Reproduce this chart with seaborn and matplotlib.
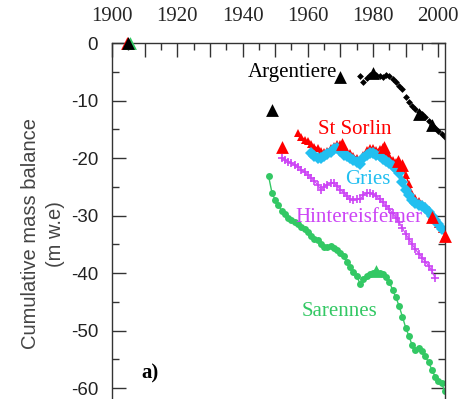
import matplotlib
matplotlib.use("Agg")
import matplotlib.pyplot as plt
import seaborn as sns
import pandas as pd

# Argentiere
arg_years = list(range(1976, 2003))
arg_vals = [-5.8, -6.7, -6.0, -5.6, -5.2, -5.6, -5.8, -5.9, -5.6, -5.7, -6.3, -6.8, -7.4,
            -8.0, -9.4, -10.2, -10.9, -11.4, -12.0, -12.3, -12.8, -13.6, -14.3, -14.8,
            -15.3, -15.8, -16.4]
arg_big_years = [1905, 1949, 1970, 1980, 1994, 1998]
arg_big_vals = [0, -11.6, -5.9, -5.2, -12.4, -14.2]

# St Sorlin
sor_years = list(range(1957, 2003))
sor_vals = [-15.7, -16.3, -16.8, -17.1, -17.6, -18.0, -18.3, -18.8, -19.0, -18.7, -18.2,
            -17.9, -17.6, -17.6, -18.3, -18.9, -19.2, -19.6, -19.9, -20.4, -19.4, -18.6,
            -18.3, -18.2, -18.6, -18.4, -18.0, -18.9, -19.6, -20.3, -20.6, -21.0, -21.4,
            -23.0, -24.5, -26.2, -27.0, -27.5, -28.0, -28.4, -29.0, -30.0, -30.8, -31.5,
            -32.3, -33.5]
sor_big_years = [1904.6, 1952, 1970.5, 1983.5, 1987.5, 1989, 1998, 2002]
sor_big_vals = [0, -18.1, -17.6, -18.0, -20.5, -21.2, -30.2, -33.5]

# Gries
gri_years = list(range(1961, 2002))
gri_vals = [-19.1, -19.6, -19.9, -19.9, -19.6, -19.3, -18.9, -18.5, -18.2, -18.7, -19.4,
            -19.7, -20.0, -20.3, -20.6, -21.1, -20.0, -19.4, -19.2, -19.1, -19.4, -19.7,
            -20.1, -20.5, -20.8, -21.3, -21.9, -22.6, -24.2, -25.6, -26.4, -27.3, -27.8,
            -28.1, -28.3, -28.6, -29.3, -30.0, -30.7, -31.5, -32.4]

# Hintereisferner
hin_years = list(range(1952, 2000))
hin_vals = [-19.9, -20.3, -20.6, -20.9, -21.2, -21.5, -22.0, -22.5, -22.9, -23.4, -24.0,
            -24.6, -25.5, -25.0, -24.6, -24.4, -24.3, -24.9, -25.5, -26.0, -26.6, -27.2,
            -27.3, -27.1, -27.2, -26.5, -26.0, -26.1, -26.3, -26.6, -27.2, -27.7, -28.3,
            -28.9, -29.6, -30.4, -31.2, -32.2, -33.2, -34.1, -35.0, -35.9, -36.6, -37.3,
            -38.0, -38.7, -39.5, -40.9]

# Sarennes
sar_years = list(range(1948, 2003))
sar_vals = [-23.2, -26.0, -27.3, -28.2, -29.2, -29.8, -30.5, -30.8, -31.2, -31.5, -32.0,
            -32.4, -32.9, -33.6, -34.0, -34.2, -35.0, -35.5, -35.4, -35.3, -35.6, -36.0,
            -36.5, -37.1, -38.0, -39.0, -39.8, -40.5, -41.9, -41.0, -40.5, -40.2, -40.0,
            -39.8, -40.0, -40.2, -40.6, -41.5, -43.0, -44.2, -45.8, -47.6, -49.5, -51.0,
            -52.6, -53.3, -53.0, -53.5, -54.5, -55.5, -56.8, -58.0, -58.8, -59.2, -60.6]
sar_big_years = [1905.5, 1981]
sar_big_vals = [0, -39.6]

c_arg = "black"
c_sor = "#ff0000"
c_gri = "#22bff0"
c_hin = "#cc44f5"
c_sar = "#33c864"

sns.set_style("ticks")
plt.rcParams['font.family'] = ['Liberation Sans', 'DejaVu Sans']
serif = ['Liberation Serif', 'DejaVu Serif']

fig = plt.figure(figsize=(4.61, 3.99), dpi=100)
ax = fig.add_axes([0.243, -0.01, 0.722, 0.902])

sns.lineplot(x=sar_years, y=sar_vals, color=c_sar, marker='o', markersize=5,
             markeredgewidth=0, linewidth=1, ax=ax)
sns.lineplot(x=hin_years, y=hin_vals, color=c_hin, marker='+', markersize=6,
             markeredgewidth=1.2, markeredgecolor=c_hin, linewidth=0.8, ax=ax)
sns.lineplot(x=sor_years, y=sor_vals, color=c_sor, marker='^', markersize=6,
             markeredgewidth=0, linewidth=1, ax=ax)
sns.lineplot(x=gri_years, y=gri_vals, color=c_gri, marker='D', markersize=6,
             markeredgewidth=0, linewidth=3, ax=ax)
sns.scatterplot(x=arg_years, y=arg_vals, color=c_arg, marker='D', s=12,
                linewidth=0, ax=ax)

for yrs, vals, col in [(sor_big_years, sor_big_vals, c_sor),
                       (sar_big_years, sar_big_vals, c_sar),
                       (arg_big_years, arg_big_vals, c_arg)]:
    ax.scatter(yrs, vals, color=col, marker='^', s=85, linewidths=0,
               zorder=5, clip_on=False)

ax.set_xlim(1900, 2002)
ax.set_ylim(-62.6, 0)

ax.xaxis.tick_top()
xmaj = list(range(1900, 2001, 10))
ax.set_xticks(xmaj)
ax.set_xticklabels([str(v) if v % 20 == 0 else '' for v in xmaj],
                   fontfamily=serif, fontsize=15)
ax.set_xticks(list(range(1905, 2001, 10)), minor=True)
ax.set_yticks([0, -10, -20, -30, -40, -50, -60])
ax.set_yticklabels(['0', '-10', '-20', '-30', '-40', '-50', '-60'], fontsize=13.5,
                   color='#222222')
ax.set_yticks(list(range(-5, -61, -10)), minor=True)
ax.tick_params(which='both', direction='in', top=True, bottom=False,
               left=True, right=True, width=1, color='#333333')
ax.tick_params(which='major', length=10)
ax.tick_params(which='minor', length=5)
ax.tick_params(axis='y', which='major', pad=10)
ax.tick_params(axis='x', which='major', pad=12)
for s in ['left', 'top', 'right']:
    ax.spines[s].set_linewidth(1)
    ax.spines[s].set_color('#333333')
ax.spines['bottom'].set_visible(False)

ax.set_ylabel('Cumulative mass balance\n(m w.e)', fontsize=14.5, color='#444444',
              linespacing=1.45)
ax.yaxis.set_label_coords(-0.14, 0.47)
ax.set_xlabel('')

ax.text(1955.4, -5.2, 'Argentiere', color=c_arg, fontfamily=serif, fontsize=15,
        ha='center', va='center')
ax.text(1974.5, -15.0, 'St Sorlin', color=c_sor, fontfamily=serif, fontsize=15,
        ha='center', va='center')
ax.text(1978.5, -23.7, 'Gries', color=c_gri, fontfamily=serif, fontsize=15,
        ha='center', va='center')
ax.text(1975.7, -30.4, 'Hintereisferner', color=c_hin, fontfamily=serif, fontsize=15,
        ha='center', va='center')
ax.text(1969.7, -46.7, 'Sarennes', color=c_sar, fontfamily=serif, fontsize=15,
        ha='center', va='center')
ax.text(1911.7, -57.4, 'a)', color='black', fontfamily=serif, fontsize=15,
        fontweight='bold', ha='center', va='center')

fig.savefig('out.png', dpi=100)
